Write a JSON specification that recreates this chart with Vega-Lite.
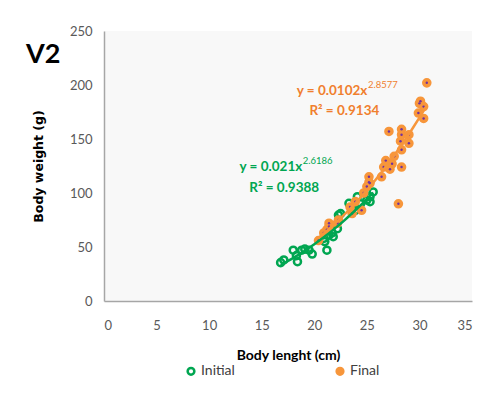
{
  "$schema": "https://vega.github.io/schema/vega-lite/v6.json",
  "width": 368,
  "height": 270,
  "autosize": {"type": "none"},
  "padding": {"left": 104, "top": 31, "right": 24, "bottom": 95},
  "background": "white",
  "title": {"text": "V2", "anchor": "start", "frame": "group", "orient": "top", "dx": -78, "dy": 65, "offset": 0, "baseline": "alphabetic", "font": "Lato", "fontSize": 27, "fontWeight": "bold", "color": "black"},
  "config": {
    "view": {"stroke": null, "fill": "#f8f8f8"},
    "font": "Lato",
    "axis": {"grid": false, "ticks": false, "labelFont": "Lato", "labelFontSize": 13, "labelColor": "#595959", "domainColor": "#a6a6a6", "domainWidth": 1.5, "titleColor": "black", "titleFontWeight": "bold", "titleFont": "Lato"}
  },
  "datasets": {
    "pts": [
      {"group": "Initial", "length": 16.8, "weight": 35.5},
      {"group": "Initial", "length": 17.1, "weight": 38},
      {"group": "Initial", "length": 18.0, "weight": 47},
      {"group": "Initial", "length": 18.3, "weight": 42},
      {"group": "Initial", "length": 18.4, "weight": 36.4},
      {"group": "Initial", "length": 18.8, "weight": 47},
      {"group": "Initial", "length": 19.1, "weight": 48},
      {"group": "Initial", "length": 19.5, "weight": 47},
      {"group": "Initial", "length": 19.8, "weight": 43.5},
      {"group": "Initial", "length": 21.2, "weight": 47},
      {"group": "Initial", "length": 21.0, "weight": 55},
      {"group": "Initial", "length": 20.9, "weight": 58},
      {"group": "Initial", "length": 21.4, "weight": 61},
      {"group": "Initial", "length": 21.7, "weight": 63},
      {"group": "Initial", "length": 21.8, "weight": 59.5},
      {"group": "Initial", "length": 22.2, "weight": 67},
      {"group": "Initial", "length": 22.3, "weight": 79.6},
      {"group": "Initial", "length": 22.5, "weight": 81},
      {"group": "Initial", "length": 23.3, "weight": 90.5},
      {"group": "Initial", "length": 23.6, "weight": 85.8},
      {"group": "Initial", "length": 23.9, "weight": 84},
      {"group": "Initial", "length": 24.1, "weight": 96.6},
      {"group": "Initial", "length": 24.4, "weight": 90},
      {"group": "Initial", "length": 25.0, "weight": 93.5},
      {"group": "Initial", "length": 25.3, "weight": 96.6},
      {"group": "Initial", "length": 25.3, "weight": 92},
      {"group": "Initial", "length": 25.6, "weight": 101},
      {"group": "Final", "length": 20.4, "weight": 56},
      {"group": "Final", "length": 20.9, "weight": 63},
      {"group": "Final", "length": 21.2, "weight": 66},
      {"group": "Final", "length": 21.4, "weight": 69},
      {"group": "Final", "length": 21.4, "weight": 72},
      {"group": "Final", "length": 22.2, "weight": 72},
      {"group": "Final", "length": 22.3, "weight": 75},
      {"group": "Final", "length": 23.4, "weight": 87},
      {"group": "Final", "length": 23.6, "weight": 81},
      {"group": "Final", "length": 23.9, "weight": 92},
      {"group": "Final", "length": 24.5, "weight": 84},
      {"group": "Final", "length": 24.7, "weight": 100},
      {"group": "Final", "length": 25.0, "weight": 106},
      {"group": "Final", "length": 25.2, "weight": 110},
      {"group": "Final", "length": 25.2, "weight": 115},
      {"group": "Final", "length": 25.3, "weight": 109},
      {"group": "Final", "length": 26.4, "weight": 115},
      {"group": "Final", "length": 26.6, "weight": 124},
      {"group": "Final", "length": 26.8, "weight": 130},
      {"group": "Final", "length": 27.2, "weight": 122},
      {"group": "Final", "length": 27.4, "weight": 127},
      {"group": "Final", "length": 27.6, "weight": 134},
      {"group": "Final", "length": 28.3, "weight": 124},
      {"group": "Final", "length": 28.0, "weight": 90},
      {"group": "Final", "length": 27.1, "weight": 157},
      {"group": "Final", "length": 28.3, "weight": 140},
      {"group": "Final", "length": 28.2, "weight": 148},
      {"group": "Final", "length": 28.3, "weight": 154},
      {"group": "Final", "length": 28.3, "weight": 159},
      {"group": "Final", "length": 29.0, "weight": 146},
      {"group": "Final", "length": 29.0, "weight": 154},
      {"group": "Final", "length": 29.9, "weight": 174},
      {"group": "Final", "length": 30.0, "weight": 183},
      {"group": "Final", "length": 30.1, "weight": 185},
      {"group": "Final", "length": 30.4, "weight": 180},
      {"group": "Final", "length": 30.4, "weight": 169},
      {"group": "Final", "length": 30.7, "weight": 202}
    ],
    "eq": [
      {"group": "Final", "length": 25.05, "weight": 194, "text": "y = 0.0102x"},
      {"group": "Initial", "length": 18.86, "weight": 124, "text": "y = 0.021x"}
    ],
    "sup": [
      {"group": "Final", "length": 25.1, "weight": 200, "text": "2.8577"},
      {"group": "Initial", "length": 18.9, "weight": 130, "text": "2.6186"}
    ],
    "r2": [
      {"group": "Final", "length": 22.86, "weight": 176, "text": "R² = 0.9134"},
      {"group": "Initial", "length": 17.14, "weight": 104.6, "text": "R² = 0.9388"}
    ]
  },
  "encoding": {
    "x": {"field": "length", "type": "quantitative", "scale": {"domain": [0, 35], "nice": false}, "axis": {"values": [0, 5, 10, 15, 20, 25, 30, 35], "labelPadding": 18, "title": "Body lenght (cm)", "titleFontSize": 14, "titlePadding": 16}},
    "y": {"field": "weight", "type": "quantitative", "scale": {"domain": [0, 250], "nice": false}, "axis": {"values": [0, 50, 100, 150, 200, 250], "labelPadding": 12, "title": "Body weight (g)", "titleFont": "DejaVu Sans", "titleFontSize": 12.5, "titlePadding": 24}}
  },
  "layer": [
    {
      "data": {"name": "pts"},
      "mark": {"type": "point", "shape": "circle", "strokeWidth": 2.5, "size": 50, "opacity": 1},
      "encoding": {
        "stroke": {"field": "group", "type": "nominal", "scale": {"domain": ["Initial", "Final"], "range": ["#00a651", "#f7963b"]}, "legend": {"title": null, "orient": "none", "legendX": 80, "legendY": 333, "direction": "horizontal", "columns": 2, "columnPadding": 96, "labelFont": "Lato", "labelFontSize": 14, "labelColor": "#404040", "symbolSize": 45, "symbolStrokeWidth": 2.5, "labelOffset": 3}},
        "fill": {"field": "group", "type": "nominal", "scale": {"domain": ["Initial", "Final"], "range": ["transparent", "#f7963b"]}, "legend": {"title": null, "orient": "none", "legendX": 80, "legendY": 333, "direction": "horizontal", "columns": 2, "columnPadding": 96, "labelFont": "Lato", "labelFontSize": 14, "labelColor": "#404040", "symbolSize": 45, "symbolStrokeWidth": 2.5, "labelOffset": 3}}
      }
    },
    {
      "data": {"name": "pts"},
      "transform": [{"filter": "datum.group === 'Final'"}],
      "mark": {"type": "circle", "size": 6, "color": "#7030a0", "opacity": 1}
    },
    {
      "data": {"name": "pts"},
      "transform": [{"regression": "weight", "on": "length", "groupby": ["group"], "method": "pow"}],
      "mark": {"type": "line", "strokeWidth": 2.5},
      "encoding": {
        "stroke": {"field": "group", "type": "nominal", "legend": null}
      }
    },
    {
      "data": {"name": "eq"},
      "mark": {"type": "text", "align": "right", "baseline": "middle", "fontSize": 13.5, "fontWeight": "bold"},
      "encoding": {"text": {"field": "text"}, "color": {"field": "group", "type": "nominal", "scale": {"domain": ["Initial", "Final"], "range": ["#00a651", "#f07f2e"]}, "legend": null}}
    },
    {
      "data": {"name": "sup"},
      "mark": {"type": "text", "align": "left", "baseline": "middle", "fontSize": 9.5},
      "encoding": {"text": {"field": "text"}, "color": {"field": "group", "type": "nominal", "legend": null}}
    },
    {
      "data": {"name": "r2"},
      "mark": {"type": "text", "align": "center", "baseline": "middle", "fontSize": 13.5, "fontWeight": "bold"},
      "encoding": {"text": {"field": "text"}, "color": {"field": "group", "type": "nominal", "legend": null}}
    }
  ]
}
